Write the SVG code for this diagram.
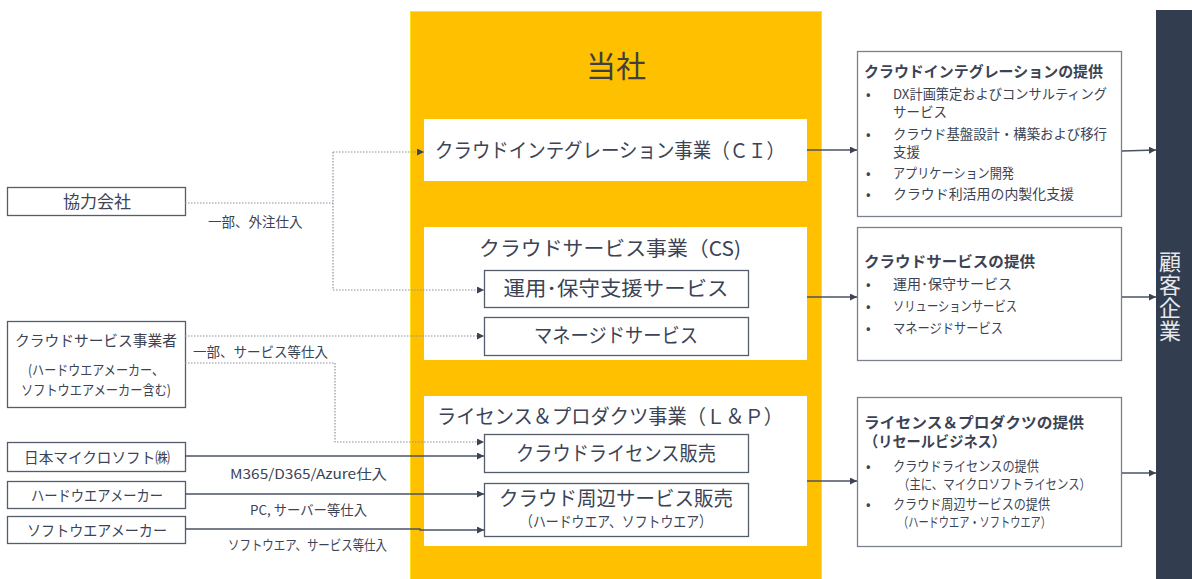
<svg xmlns="http://www.w3.org/2000/svg" width="1192" height="579" viewBox="0 0 1192 579">
<style>
text{font-family:"Noto Sans CJK JP","Noto Sans",sans-serif;fill:#3B4355}
.lbox{fill:#fff;stroke:#555D6D;stroke-width:1.3}
.inner{fill:#fff}
.sub{fill:#fff;stroke:#555D6D;stroke-width:1.3}
.rbox{fill:#fff;stroke:#7A8090;stroke-width:1.3}
.solid{fill:none;stroke:#4A5264;stroke-width:1.3}
.dot{fill:none;stroke:#8C919C;stroke-width:1.2;stroke-dasharray:1.5 1.5}
.t20{font-size:20px}
.t17{font-size:17px}
.t15{font-size:15px}
.t14{font-size:14px}
.t13{font-size:13.5px}
.tb{font-size:15px;font-weight:bold}
.c{text-anchor:middle}
</style>
<defs>
<marker id="ah" viewBox="0 0 10 10" refX="10" refY="5" markerWidth="7" markerHeight="7" markerUnits="userSpaceOnUse" orient="auto">
<path d="M0,0 L10,5 L0,10 z" fill="#3B4355"/>
</marker>
</defs>

<g id="company">
<rect x="410.5" y="11.5" width="411" height="570" fill="#FFC000" stroke="#FFE21A" stroke-width="1"/>
<text x="616" y="77" class="c" style="font-size:30px;fill:#3F3F3F">当社</text>
</g>

<g id="ci">
<rect class="inner" x="424" y="119" width="383" height="62"/>
<text x="435" y="158" class="t20" textLength="350" lengthAdjust="spacingAndGlyphs">クラウドインテグレーション事業（ＣＩ）</text>
</g>

<g id="cs">
<rect class="inner" x="424" y="227" width="383" height="133"/>
<text x="610" y="256" class="t20 c" textLength="262" lengthAdjust="spacingAndGlyphs">クラウドサービス事業（CS)</text>
</g>
<g id="cs-ops">
<rect class="sub" x="484.5" y="270.5" width="264" height="37"/>
<text x="616" y="296" class="t20 c" textLength="225" lengthAdjust="spacingAndGlyphs">運用･保守支援サービス</text>
</g>
<g id="cs-managed">
<rect class="sub" x="484.5" y="317.5" width="264" height="38"/>
<text x="616" y="343" class="t20 c" textLength="164" lengthAdjust="spacingAndGlyphs">マネージドサービス</text>
</g>

<g id="lp">
<rect class="inner" x="424" y="396" width="383" height="150"/>
<text x="437" y="424" class="t20" textLength="346" lengthAdjust="spacingAndGlyphs">ライセンス＆プロダクツ事業（Ｌ＆Ｐ）</text>
</g>
<g id="lp-license">
<rect class="sub" x="484.5" y="434.5" width="264" height="38"/>
<text x="616" y="461" class="t20 c" textLength="200" lengthAdjust="spacingAndGlyphs">クラウドライセンス販売</text>
</g>
<g id="lp-peripheral">
<rect class="sub" x="484.5" y="483.5" width="264" height="53"/>
<text x="616" y="506" class="t20 c" textLength="234" lengthAdjust="spacingAndGlyphs">クラウド周辺サービス販売</text>
<text x="616" y="527" class="t15 c" textLength="192" lengthAdjust="spacingAndGlyphs">（ハードウエア、ソフトウエア）</text>
</g>

<g id="partner">
<rect class="lbox" x="7.5" y="187.5" width="178" height="28"/>
<text x="97" y="208" class="t17 c">協力会社</text>
</g>
<g id="csp">
<rect class="lbox" x="7.5" y="321.5" width="178" height="86"/>
<text x="96" y="346" class="t15 c" textLength="162" lengthAdjust="spacingAndGlyphs">クラウドサービス事業者</text>
<text x="96" y="375" class="t14 c" textLength="136" lengthAdjust="spacingAndGlyphs">(ハードウエアメーカー、</text>
<text x="96" y="395" class="t14 c" textLength="150" lengthAdjust="spacingAndGlyphs">ソフトウエアメーカー含む)</text>
</g>
<g id="microsoft">
<rect class="lbox" x="7.5" y="442.5" width="178" height="29"/>
<text x="97" y="463" class="t15 c" textLength="146" lengthAdjust="spacingAndGlyphs">日本マイクロソフト㈱</text>
</g>
<g id="hw">
<rect class="lbox" x="7.5" y="481.5" width="178" height="27"/>
<text x="97" y="501" class="t15 c" textLength="132" lengthAdjust="spacingAndGlyphs">ハードウエアメーカー</text>
</g>
<g id="sw">
<rect class="lbox" x="7.5" y="516.5" width="178" height="27"/>
<text x="97" y="536" class="t15 c" textLength="140" lengthAdjust="spacingAndGlyphs">ソフトウエアメーカー</text>
</g>

<g id="out-ci">
<rect class="rbox" x="857.5" y="51.5" width="264" height="165"/>
<text x="864" y="77" class="tb" textLength="239" lengthAdjust="spacingAndGlyphs">クラウドインテグレーションの提供</text>
<g class="t13">
<text x="866" y="99">•</text>
<text x="893" y="99"><tspan textLength="214" lengthAdjust="spacingAndGlyphs">DX計画策定およびコンサルティング</tspan><tspan x="893" y="117">サービス</tspan></text>
<text x="866" y="139">•</text>
<text x="893" y="139"><tspan textLength="214" lengthAdjust="spacingAndGlyphs">クラウド基盤設計・構築および移行</tspan><tspan x="893" y="157">支援</tspan></text>
<text x="866" y="178">•</text><text x="893" y="178" textLength="121" lengthAdjust="spacingAndGlyphs">アプリケーション開発</text>
<text x="866" y="199">•</text><text x="893" y="199" textLength="181" lengthAdjust="spacingAndGlyphs">クラウド利活用の内製化支援</text>
</g>
</g>

<g id="out-cs">
<rect class="rbox" x="857.5" y="227.5" width="264" height="133"/>
<text x="864" y="267" class="tb" textLength="171" lengthAdjust="spacingAndGlyphs">クラウドサービスの提供</text>
<g class="t13">
<text x="866" y="289">•</text><text x="893" y="289" textLength="119" lengthAdjust="spacingAndGlyphs">運用･保守サービス</text>
<text x="866" y="311">•</text><text x="893" y="311" textLength="124" lengthAdjust="spacingAndGlyphs">ソリューションサービス</text>
<text x="866" y="333">•</text><text x="893" y="333" textLength="110" lengthAdjust="spacingAndGlyphs">マネージドサービス</text>
</g>
</g>

<g id="out-lp">
<rect class="rbox" x="857.5" y="397.5" width="264" height="149"/>
<text x="864" y="428" class="tb"><tspan textLength="220" lengthAdjust="spacingAndGlyphs">ライセンス＆プロダクツの提供</tspan><tspan x="864" y="447" textLength="142" lengthAdjust="spacingAndGlyphs">（リセールビジネス）</tspan></text>
<g class="t13">
<text x="866" y="471">•</text>
<text x="893" y="471"><tspan textLength="146" lengthAdjust="spacingAndGlyphs">クラウドライセンスの提供</tspan><tspan x="898" y="489" textLength="193" lengthAdjust="spacingAndGlyphs">（主に、マイクロソフトライセンス）</tspan></text>
<text x="866" y="509">•</text>
<text x="893" y="509"><tspan textLength="157" lengthAdjust="spacingAndGlyphs">クラウド周辺サービスの提供</tspan><tspan x="898" y="527" textLength="153" lengthAdjust="spacingAndGlyphs">（ハードウエア・ソフトウエア）</tspan></text>
</g>
</g>

<g id="customer">
<rect x="1156" y="10" width="40" height="575" fill="#323D4F"/>
<text x="1170" y="251" style="font-size:22px;fill:#E6E8EC;writing-mode:vertical-rl;letter-spacing:1px">顧客企業</text>
</g>

<g id="connectors">
<path class="dot" d="M185,203 H333 M333,152 V290 M333,152 H424" marker-end="url(#ah)"/>
<path class="dot" d="M333,290 H484" marker-end="url(#ah)"/>
<path class="dot" d="M185,336 H484" marker-end="url(#ah)"/>
<path class="dot" d="M185,363 H335 V442 H484" marker-end="url(#ah)"/>
<path class="solid" d="M185,456 H484" marker-end="url(#ah)"/>
<path class="solid" d="M185,494 H484" marker-end="url(#ah)"/>
<path class="solid" d="M185,529 H420 V530 H484" marker-end="url(#ah)"/>
<path class="solid" d="M807,150 H857" marker-end="url(#ah)"/>
<path class="solid" d="M807,297 H857" marker-end="url(#ah)"/>
<path class="solid" d="M807,481 H857" marker-end="url(#ah)"/>
<path class="solid" d="M1122,151 L1156,150" marker-end="url(#ah)"/>
<path class="solid" d="M1122,297 H1156" marker-end="url(#ah)"/>
<path class="solid" d="M1122,473 H1156" marker-end="url(#ah)"/>
<g class="t13">
<text x="208" y="227">一部、外注仕入</text>
<text x="193" y="357">一部、サービス等仕入</text>
<text x="230" y="479" textLength="157" lengthAdjust="spacingAndGlyphs">M365/D365/Azure仕入</text>
<text x="250" y="515" textLength="117" lengthAdjust="spacingAndGlyphs">PC, サーバー等仕入</text>
<text x="228" y="550" textLength="159" lengthAdjust="spacingAndGlyphs">ソフトウエア、サービス等仕入</text>
</g>
</g>
</svg>
